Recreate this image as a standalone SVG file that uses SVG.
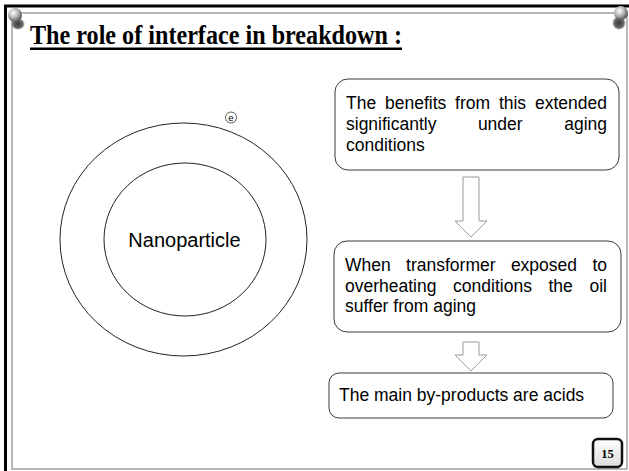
<svg xmlns="http://www.w3.org/2000/svg" width="629" height="471" viewBox="0 0 629 471">
<style>
.box{fill:#fff;stroke:#3a3a3a;stroke-width:1}
.arr{fill:#fff;stroke:#9a9a9a;stroke-width:1}
.t{font-family:"Liberation Sans",Arial,sans-serif;font-size:17.5px;fill:#000}
.ring{fill:none;stroke:#222;stroke-width:1}
</style>
<defs>
<radialGradient id="pin" cx="0.38" cy="0.35" r="0.7">
<stop offset="0" stop-color="#ffffff"/>
<stop offset="0.45" stop-color="#bdbdbd"/>
<stop offset="1" stop-color="#4a4a4a"/>
</radialGradient>
<radialGradient id="pinb" cx="0.5" cy="0.5" r="0.5">
<stop offset="0" stop-color="#3a3a3a"/>
<stop offset="0.7" stop-color="#6a6a6a"/>
<stop offset="1" stop-color="#6a6a6a" stop-opacity="0"/>
</radialGradient>
<linearGradient id="btn" x1="0" y1="0" x2="0" y2="1">
<stop offset="0" stop-color="#ffffff"/>
<stop offset="1" stop-color="#dcdcdc"/>
</linearGradient>
</defs>
<rect width="629" height="471" fill="#fff"/>
<g id="frame">
<rect x="12" y="13" width="615" height="456" fill="#fff" stroke="#a0a0a0" stroke-width="1.5"/>
<path d="M5.5 471 V6 H629" fill="none" stroke="#000" stroke-width="3"/>
</g>
<g id="pins">
<ellipse cx="18" cy="24" rx="7" ry="6" fill="url(#pinb)"/>
<circle cx="15" cy="15" r="7" fill="url(#pin)"/>
<ellipse cx="619" cy="23" rx="7" ry="7" fill="url(#pinb)"/>
<circle cx="621" cy="13" r="7" fill="url(#pin)"/>
</g>
<g id="title">
<text x="30" y="44" font-family="'Liberation Serif','Times New Roman',serif" font-weight="bold" font-size="27" textLength="372" lengthAdjust="spacingAndGlyphs">The role of interface in breakdown :</text>
<rect x="30" y="47.5" width="372" height="2.5" fill="#000"/>
</g>
<g id="nanoparticle">
<ellipse class="ring" cx="183.5" cy="239.5" rx="123.5" ry="116.5"/>
<ellipse class="ring" cx="185" cy="239.5" rx="81" ry="76.5"/>
<text x="184.5" y="247" text-anchor="middle" font-family="'Liberation Sans',Arial,sans-serif" font-size="20">Nanoparticle</text>
</g>
<g id="electron">
<circle cx="231" cy="117.5" r="5.5" fill="none" stroke="#333" stroke-width="0.8"/>
<text x="231" y="121" text-anchor="middle" font-family="'Liberation Sans',Arial,sans-serif" font-size="9.5">e</text>
</g>
<g id="connectors">
<path class="arr" d="M463 177 H479 V221 H487 L471 237 L455 221 H463 Z"/>
<path class="arr" d="M463 342 H479 V355 H487 L471 371 L455 355 H463 Z"/>
</g>
<g id="box1">
<rect class="box" x="335" y="79" width="284" height="91" rx="13"/>
<text class="t" y="109"><tspan x="346">The</tspan><tspan x="385">benefits</tspan><tspan x="455.1">from</tspan><tspan x="498.9">this</tspan><tspan x="535">extended</tspan></text>
<text class="t" y="130"><tspan x="346">significantly</tspan><tspan x="477.9">under</tspan></text>
<text class="t" x="607" y="130" text-anchor="end">aging</text>
<text class="t" x="346" y="151">conditions</text>
</g>
<g id="box2">
<rect class="box" x="334" y="241" width="287" height="91" rx="13"/>
<text class="t" y="271"><tspan x="345">When</tspan><tspan x="406.1">transformer</tspan><tspan x="510.9">exposed</tspan></text>
<text class="t" x="607" y="271" text-anchor="end">to</text>
<text class="t" y="292"><tspan x="345">overheating</tspan><tspan x="453.1">conditions</tspan><tspan x="548.5">the</tspan></text>
<text class="t" x="607" y="292" text-anchor="end">oil</text>
<text class="t" x="345" y="312">suffer from aging</text>
</g>
<g id="box3">
<rect class="box" x="329" y="373" width="284" height="45" rx="10"/>
<text class="t" x="339" y="401">The main by-products are acids</text>
</g>
<g id="pagenum">
<rect x="593" y="439" width="29" height="28" rx="5" fill="url(#btn)" stroke="#111" stroke-width="2.5"/>
<text x="607.5" y="457.5" text-anchor="middle" font-family="'Liberation Serif','Times New Roman',serif" font-weight="bold" font-size="12.5">15</text>
</g>
</svg>
